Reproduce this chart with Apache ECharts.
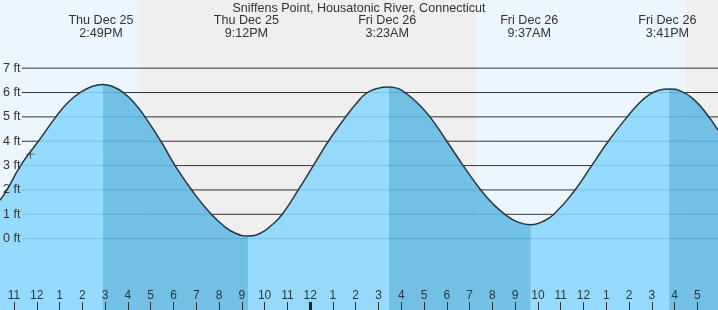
<!DOCTYPE html>
<html><head><meta charset="utf-8">
<script src="https://cdn.jsdelivr.net/npm/echarts@6/dist/echarts.min.js"></script>
<style>html,body{margin:0;padding:0;background:#fff;overflow:hidden}#c{width:718px;height:310px}</style>
</head><body><div id="c"></div>
<script>
// ---- data ----
const chartTitle = 'Sniffens Point, Housatonic River, Connecticut';
// hours since Thu Dec 25 00:00
const tideHours = [10.385,10.69,11.29,12.07,12.84,13.40,13.90,14.45,14.90,15.35,15.80,16.30,16.75,17.45,18.07,18.80,19.60,20.20,20.75,21.27,21.85,22.30,22.75,23.48,24.14,24.80,25.56,26.00,26.45,26.95,27.46,27.85,28.16,28.70,29.26,30.00,30.72,31.49,32.00,32.55,33.10,33.68,34.20,34.70,35.63,36.36,37.09,37.90,38.40,38.92,39.30,39.76,40.30,40.80,41.30,41.905];
const tideFeet  = [1.58,2.0,3.0,4.0,5.0,5.62,6.0,6.26,6.33,6.24,6.0,5.55,5.0,4.0,3.0,2.0,1.06,0.53,0.21,0.11,0.24,0.55,0.97,2.0,3.0,4.0,5.0,5.52,5.96,6.17,6.23,6.17,6.0,5.58,5.0,4.0,3.0,2.0,1.45,1.0,0.69,0.57,0.7,1.0,2.0,3.0,4.0,4.98,5.52,5.93,6.09,6.15,6.05,5.75,5.25,4.46];
const extremeHours = [14.817, 21.2, 27.383, 33.617, 39.683];
const extremeDays  = ['Thu Dec 25','Thu Dec 25','Fri Dec 26','Fri Dec 26','Fri Dec 26'];
const extremeTimes = ['2:49PM','9:12PM','3:23AM','9:37AM','3:41PM'];
const sunsetHours  = [16.49, 40.5];
const sunriseHours = [31.28];
const hourTicks = [11,12,13,14,15,16,17,18,19,20,21,22,23,24,25,26,27,28,29,30,31,32,33,34,35,36,37,38,39,40,41];
const midnightHours = [24];
const footTicks = [0,1,2,3,4,5,6,7];
const nowHour = 11.72, nowFeet = 3.47;

// ---- layout / style ----
const X_MIN = 10.385, X_MAX = 41.905, Y_MIN = -2.93, Y_MAX = 9.80;
const GRID_LINE_START = 11.35;
const FONT = "'Liberation Sans', Arial, sans-serif";
const TXT = '#333';
const DAY = '#ebf6fe', NIGHT = '#efefef';
const LIGHT_FILL = '#89d7fd', DARK_FILL = '#61b9e3', FILL_OPACITY = 0.88;

// day / night bands
const bandEdges = [X_MIN, sunsetHours[0], sunriseHours[0], sunsetHours[1], X_MAX];
const bands = [];
for (let i = 0; i < bandEdges.length - 1; i++) {
  bands.push([{xAxis: bandEdges[i], itemStyle: {color: i % 2 === 0 ? DAY : NIGHT}}, {xAxis: bandEdges[i + 1]}]);
}

// split into rising (light) and falling (dark) pieces
const lightData = [], darkData = [], fullData = [];
for (let i = 0; i < tideHours.length; i++) {
  const h = tideFeet[i];
  const prevRise = i > 0 && h > tideFeet[i - 1];
  const prevFall = i > 0 && h < tideFeet[i - 1];
  const nextRise = i < tideHours.length - 1 && tideFeet[i + 1] > h;
  const nextFall = i < tideHours.length - 1 && tideFeet[i + 1] < h;
  fullData.push([tideHours[i], h]);
  lightData.push([tideHours[i], (prevRise || nextRise) ? h : '-']);
  darkData.push([tideHours[i], (prevFall || nextFall) ? h : '-']);
}

const SMOOTH = 0.5;
const series = [];
footTicks.forEach((f, i) => {
  const s = {
    type: 'line', data: [[GRID_LINE_START, f], [X_MAX, f]], symbol: 'none', silent: true, z: 2,
    lineStyle: {color: '#333', width: 1}
  };
  if (i === 0) s.markArea = {silent: true, data: bands};
  series.push(s);
});
series.push({type: 'line', data: lightData, symbol: 'none', smooth: SMOOTH, z: 3, silent: true,
  lineStyle: {width: 0}, areaStyle: {color: LIGHT_FILL, opacity: FILL_OPACITY, origin: 'start'}});
series.push({type: 'line', data: darkData, symbol: 'none', smooth: SMOOTH, z: 3, silent: true,
  lineStyle: {width: 0}, areaStyle: {color: DARK_FILL, opacity: FILL_OPACITY, origin: 'start'}});
series.push({type: 'line', data: fullData, symbol: 'none', smooth: SMOOTH, z: 4, silent: true,
  lineStyle: {color: '#333', width: 1.5}});
series.push({type: 'scatter', data: [[nowHour, nowFeet]], z: 5, silent: true,
  symbol: 'path://M4.5,0H5.5V10H4.5Z M0,4.5H10V5.5H0Z', symbolSize: 9, itemStyle: {color: '#333'}});

function hourLabel(v) {
  const h = Math.round(v) % 12;
  return String(h === 0 ? 12 : h);
}

const option = {
  animation: false,
  backgroundColor: '#fff',
  textStyle: {fontFamily: FONT},
  title: {text: chartTitle, left: 'center', top: -3,
    textStyle: {fontFamily: FONT, fontSize: 12.6, fontWeight: 'normal', color: TXT}},
  grid: {left: 0, right: 0, top: 0, bottom: 0, containLabel: false, outerBoundsMode: 'none'},
  xAxis: [
    {type: 'value', min: X_MIN, max: X_MAX, position: 'bottom', z: 10,
      axisLine: {show: false, onZero: false}, splitLine: {show: false},
      axisTick: {show: true, inside: true, length: 8, customValues: hourTicks, lineStyle: {color: '#333', width: 1}},
      axisLabel: {inside: true, customValues: hourTicks, formatter: hourLabel, color: TXT, fontSize: 12, fontFamily: FONT, margin: 8}},
    {type: 'value', min: X_MIN, max: X_MAX, position: 'bottom', z: 11,
      axisLine: {show: false, onZero: false}, splitLine: {show: false},
      axisTick: {show: true, inside: true, length: 8, customValues: midnightHours, lineStyle: {color: '#222', width: 3}},
      axisLabel: {show: false}},
    {type: 'value', min: X_MIN, max: X_MAX, position: 'top', z: 10,
      axisLine: {show: false, onZero: false}, splitLine: {show: false}, axisTick: {show: false},
      axisLabel: {inside: true, customValues: extremeHours,
        formatter: (v) => { const k = extremeHours.indexOf(v); return extremeDays[k] + '\n' + extremeTimes[k]; },
        color: TXT, fontSize: 12.6, lineHeight: 13, fontFamily: FONT, margin: 14, align: 'center'}}
  ],
  yAxis: {type: 'value', min: Y_MIN, max: Y_MAX, z: 10,
    axisLine: {show: false, onZero: false}, axisTick: {show: false}, splitLine: {show: false},
    axisLabel: {inside: true, customValues: footTicks, formatter: v => v + ' ft', color: TXT, fontSize: 12.5, fontFamily: FONT, margin: 3}},
  series: series
};
const chart = echarts.init(document.getElementById('c'), null, {renderer: 'canvas'});
chart.setOption(option);
</script>
</body></html>
